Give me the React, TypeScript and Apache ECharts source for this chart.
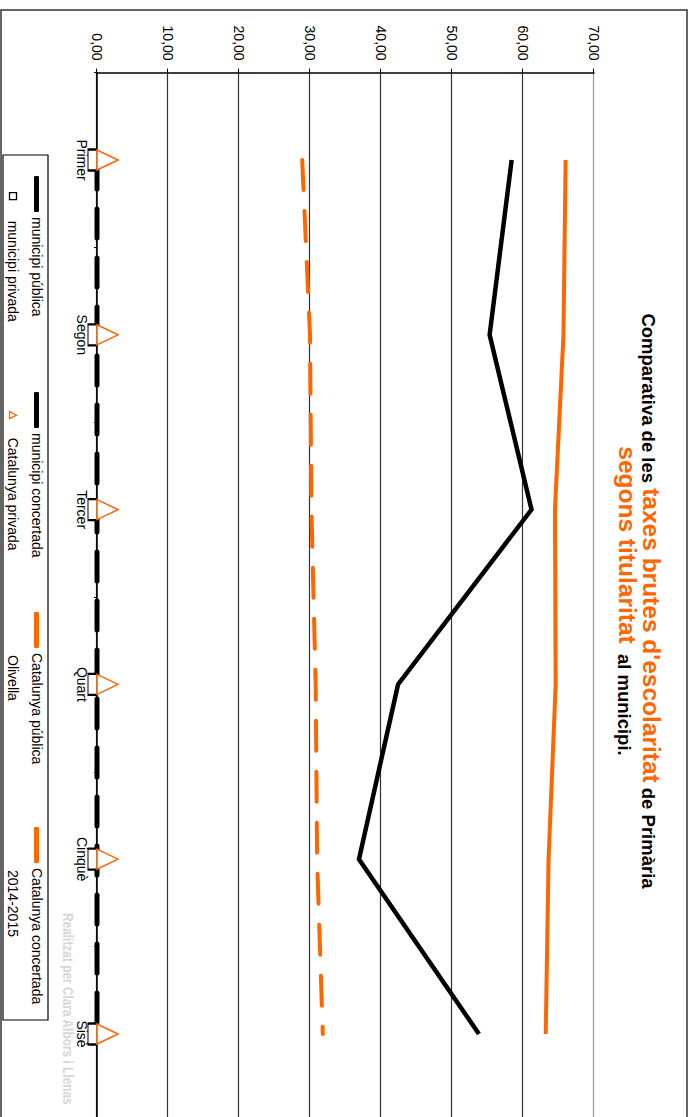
import React, { useEffect, useRef } from 'react';
import * as echarts from 'echarts';

const categories = ['Primer', 'Segon', 'Tercer', 'Quart', 'Cinquè', 'Sisè'];
const municipiPublica = [58.4, 55.3, 61.2, 42.4, 36.9, 53.8];
const municipiConcertada = [0, 0, 0, 0, 0, 0];
const municipiPrivada = [0, 0, 0, 0, 0, 0];
const catalunyaPublica = [66.0, 65.7, 64.5, 64.6, 63.6, 63.2];
const catalunyaConcertada = [28.9, 30.0, 30.2, 30.8, 31.0, 31.8];
const catalunyaPrivada = [0, 0, 0, 0, 0, 0];
const valueMin = 0;
const valueMax = 70;
const valueStep = 10;
const extraLegendTexts = ['Olivella', '2014-2015'];
const titleLine1 = ['Comparativa de les ', "taxes brutes d'escolaritat", ' de Primària'];
const titleLine2 = ['segons titularitat', '  al municipi.'];
const watermark = 'Realitzat per Clara Albors i Llenas';

const ORANGE = '#FF6600';
const FONT = "'Liberation Sans', Arial, Helvetica, sans-serif";
const CHART_W = 1130;
const CHART_H = 693;

const fmt = (v: number) => v.toFixed(2).replace('.', ',');

function buildOption(): any {
  const rich = {
    b: { fontSize: 18.5, fontWeight: 'bold', color: '#000', fontFamily: FONT, verticalAlign: 'bottom' },
    o: { fontSize: 24.5, fontWeight: 'bold', color: ORANGE, fontFamily: FONT, verticalAlign: 'bottom' },
  };
  const legendText = { fontSize: 14, color: '#000', fontFamily: FONT };
  const lineLegend = (name: string, left: number, color: string) => ({
    left,
    top: 649.5,
    padding: 0,
    orient: 'horizontal',
    selectedMode: false,
    itemWidth: 36,
    itemHeight: 5,
    textStyle: legendText,
    data: [{ name, icon: 'roundRect', itemStyle: { color, borderWidth: 0 } }],
  });
  const symLegend = (name: string, left: number, icon: string, color: string, pad: number) => ({
    left,
    top: 673,
    padding: 0,
    selectedMode: false,
    itemWidth: 7,
    itemHeight: 7,
    textStyle: { ...legendText, padding: [0, 0, 0, pad] },
    data: [{ name, icon, itemStyle: { color: '#fff', borderColor: color, borderWidth: 1.3 } }],
  });
  const splitColors = [];
  for (let v = valueMin; v <= valueMax; v += valueStep) splitColors.push(v === valueMax ? '#999' : '#333');

  return {
    animation: false,
    backgroundColor: '#fff',
    title: [
      {
        left: 601,
        top: 29,
        padding: 0,
        textAlign: 'center',
        text: `{b|${titleLine1[0]}}{o|${titleLine1[1]}}{b|${titleLine1[2]}}`,
        textStyle: { rich },
      },
      {
        left: 601,
        top: 53,
        padding: 0,
        textAlign: 'center',
        text: `{o|${titleLine2[0]}}{b|${titleLine2[1]}}`,
        textStyle: { rich },
      },
    ],
    legend: [
      lineLegend('municipi pública', 176, '#000'),
      lineLegend('municipi concertada', 392, '#000'),
      lineLegend('Catalunya pública', 612, ORANGE),
      lineLegend('Catalunya concertada', 827, ORANGE),
      symLegend('municipi privada', 192, 'rect', '#000', 16),
      symLegend('Catalunya privada', 411, 'triangle', ORANGE, 14),
    ],
    grid: { left: 72.6, right: CHART_W - 1121.4, top: 99, bottom: 97, containLabel: false },
    xAxis: {
      type: 'category',
      data: categories,
      boundaryGap: true,
      axisLine: { show: true, lineStyle: { color: '#000', width: 1.5 } },
      axisTick: { show: true, length: 3, lineStyle: { color: '#000', width: 1 } },
      axisLabel: { margin: 8, fontSize: 14, color: '#000', fontFamily: FONT },
      splitLine: { show: false },
    },
    yAxis: {
      type: 'value',
      min: valueMin,
      max: valueMax,
      interval: valueStep,
      axisLine: { show: true, lineStyle: { color: '#000', width: 1.5 } },
      axisTick: { show: true, length: 4, lineStyle: { color: '#000', width: 1 } },
      axisLabel: { margin: 12, fontSize: 14, color: '#000', fontFamily: FONT, formatter: fmt },
      splitLine: { show: true, lineStyle: { color: splitColors, width: 1.2 } },
    },
    series: [
      {
        name: 'municipi pública',
        type: 'line',
        data: municipiPublica,
        symbol: 'none',
        silent: true,
        clip: false,
        itemStyle: { color: '#000' },
        lineStyle: { color: '#000', width: 4.5, join: 'miter' },
        z: 3,
      },
      {
        name: 'municipi concertada',
        type: 'line',
        data: municipiConcertada,
        symbol: 'none',
        silent: true,
        clip: false,
        itemStyle: { color: '#000' },
        lineStyle: { color: '#000', width: 5, type: [29, 20], cap: 'round' },
        z: 2,
      },
      {
        name: 'Catalunya pública',
        type: 'line',
        data: catalunyaPublica,
        symbol: 'none',
        silent: true,
        clip: false,
        itemStyle: { color: ORANGE },
        lineStyle: { color: ORANGE, width: 4, join: 'miter' },
        z: 3,
      },
      {
        name: 'Catalunya concertada',
        type: 'line',
        data: catalunyaConcertada,
        symbol: 'none',
        silent: true,
        clip: false,
        itemStyle: { color: ORANGE },
        lineStyle: { color: ORANGE, width: 4, type: [30, 21], cap: 'round' },
        z: 3,
      },
      {
        name: 'municipi privada',
        type: 'line',
        data: municipiPrivada,
        symbol: 'rect',
        symbolSize: [21, 9],
        symbolOffset: [0, 4.5],
        showSymbol: true,
        silent: true,
        clip: false,
        lineStyle: { width: 0, opacity: 0 },
        itemStyle: { color: '#fff', borderColor: '#000', borderWidth: 1.5 },
        z: 5,
      },
      {
        name: 'Catalunya privada',
        type: 'line',
        data: catalunyaPrivada,
        symbol: 'triangle',
        symbolSize: [20, 21],
        symbolOffset: [0, -10.5],
        showSymbol: true,
        silent: true,
        clip: false,
        lineStyle: { width: 0, opacity: 0 },
        itemStyle: { color: '#fff', borderColor: ORANGE, borderWidth: 1.5 },
        z: 5,
      },
    ],
    graphic: [
      {
        type: 'rect',
        silent: true,
        shape: { x: 10, y: 6, width: 1200, height: 686 },
        style: { fill: 'none', stroke: '#333', lineWidth: 1.5 },
        z: 0,
      },
      {
        type: 'rect',
        silent: true,
        shape: { x: 155, y: 645, width: 865, height: 45 },
        style: { fill: 'none', stroke: '#000', lineWidth: 1.2 },
        z: 0,
      },
      {
        type: 'text',
        silent: true,
        x: 655,
        y: 680,
        style: { text: extraLegendTexts[0], fontSize: 14, fontFamily: FONT, fill: '#000', verticalAlign: 'middle' },
      },
      {
        type: 'text',
        silent: true,
        x: 870,
        y: 680,
        style: { text: extraLegendTexts[1], fontSize: 14, fontFamily: FONT, fill: '#000', verticalAlign: 'middle' },
      },
      {
        type: 'text',
        silent: true,
        x: 913,
        y: 618,
        scaleX: 0.82,
        style: {
          text: watermark,
          fontSize: 14.5,
          fontWeight: 'bold',
          fontFamily: FONT,
          fill: '#d6d6d6',
          verticalAlign: 'top',
        },
      },
    ],
  };
}

export default function App() {
  const ref = useRef<HTMLDivElement>(null);
  useEffect(() => {
    if (!ref.current) return;
    const chart = echarts.init(ref.current, null, { renderer: 'svg' });
    chart.setOption(buildOption());
    return () => chart.dispose();
  }, []);
  return (
    <div
      style={{
        position: 'fixed',
        left: 0,
        top: 0,
        width: 693,
        height: 1117,
        overflow: 'hidden',
        background: '#fff',
      }}
    >
      <div
        ref={ref}
        style={{
          position: 'absolute',
          left: 0,
          top: 0,
          width: CHART_W,
          height: CHART_H,
          transformOrigin: '0 0',
          transform: 'translate(693px, 0px) rotate(90deg)',
        }}
      />
    </div>
  );
}
